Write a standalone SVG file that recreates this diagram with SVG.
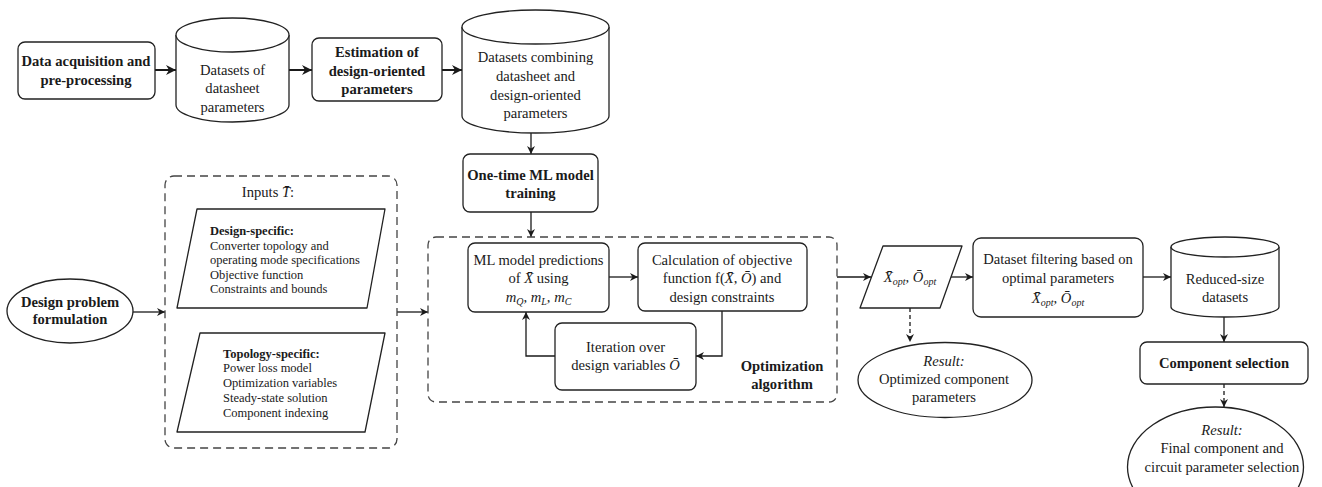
<svg xmlns="http://www.w3.org/2000/svg" width="1322" height="487" viewBox="0 0 1322 487">
<defs>
<style>
.box{fill:#fff;stroke:#222;stroke-width:1.3}
.dbox{fill:none;stroke:#444;stroke-width:1.3;stroke-dasharray:8,5}
.t{font-family:"Liberation Serif","Times New Roman",serif;font-size:14.6px;fill:#1a1a1a;text-anchor:middle}
.s{font-family:"Liberation Serif","Times New Roman",serif;font-size:12.5px;fill:#1a1a1a}
.b{font-weight:bold}
.i{font-style:italic}
.c{fill:none;stroke:#1a1a1a;stroke-width:1.3}
.ct{fill:none;stroke:#1a1a1a;stroke-width:2}
.cd{fill:none;stroke:#1a1a1a;stroke-width:1.3;stroke-dasharray:4,3}
</style>
<marker id="ah" viewBox="0 0 10 10" refX="10" refY="5" markerWidth="8" markerHeight="8" markerUnits="userSpaceOnUse" orient="auto">
<path d="M0,0 L10,5 L0,10 L3,5 z" fill="#1a1a1a"/>
</marker>
<marker id="ahb" viewBox="0 0 10 10" refX="10" refY="5" markerWidth="10" markerHeight="10" markerUnits="userSpaceOnUse" orient="auto">
<path d="M0,0 L10,5 L0,10 L3,5 z" fill="#1a1a1a"/>
</marker>
</defs>
<rect width="1322" height="487" fill="#fff"/>

<g id="connectors">
<line class="ct" x1="155" y1="70" x2="176" y2="70" marker-end="url(#ahb)"/>
<line class="ct" x1="289" y1="70" x2="312" y2="70" marker-end="url(#ahb)"/>
<line class="ct" x1="442" y1="70" x2="462" y2="70" marker-end="url(#ahb)"/>
<line class="c" x1="531" y1="133" x2="531" y2="154" marker-end="url(#ah)"/>
<line class="c" x1="531" y1="212" x2="531" y2="237" marker-end="url(#ah)"/>
<line class="c" x1="133" y1="312" x2="165" y2="312" marker-end="url(#ah)"/>
<line class="c" x1="397" y1="312" x2="428" y2="312" marker-end="url(#ah)"/>
<line class="c" x1="609" y1="277" x2="638" y2="277" marker-end="url(#ah)"/>
<path class="c" d="M722,311 V356 H696" marker-end="url(#ah)"/>
<path class="c" d="M555,356 H526 V312" marker-end="url(#ah)"/>
<line class="c" x1="837" y1="277" x2="871" y2="277" marker-end="url(#ah)"/>
<line class="c" x1="951" y1="277" x2="973" y2="277" marker-end="url(#ah)"/>
<line class="c" x1="1143" y1="277" x2="1171" y2="277" marker-end="url(#ah)"/>
<line class="c" x1="1224" y1="317" x2="1224" y2="342" marker-end="url(#ah)"/>
<line class="cd" x1="1224" y1="384" x2="1224" y2="407" marker-end="url(#ah)"/>
<line class="cd" x1="910" y1="308" x2="910" y2="342" marker-end="url(#ah)"/>
</g>

<g id="data-acq">
<rect class="box" x="18" y="42" width="137" height="57" rx="7"/>
<text class="t b" x="86" y="66">Data acquisition and</text>
<text class="t b" x="86" y="85">pre-processing</text>
</g>

<g id="cyl-datasheet">
<path class="box" d="M176,35 V105 A56.5,17 0 0 0 289,105 V35"/>
<ellipse class="box" cx="232.5" cy="35" rx="56.5" ry="17"/>
<text class="t" x="232.5" y="75">Datasets of</text>
<text class="t" x="232.5" y="93">datasheet</text>
<text class="t" x="232.5" y="112">parameters</text>
</g>

<g id="estimation">
<rect class="box" x="312" y="38" width="130" height="63" rx="7"/>
<text class="t b" x="377" y="57">Estimation of</text>
<text class="t b" x="377" y="76">design-oriented</text>
<text class="t b" x="377" y="94">parameters</text>
</g>

<g id="cyl-combined">
<path class="box" d="M462,27 V116 A73.5,17 0 0 0 609,116 V27"/>
<ellipse class="box" cx="535.5" cy="27" rx="73.5" ry="17"/>
<text class="t" x="535.5" y="62">Datasets combining</text>
<text class="t" x="535.5" y="81">datasheet and</text>
<text class="t" x="535.5" y="100">design-oriented</text>
<text class="t" x="535.5" y="118">parameters</text>
</g>

<g id="ml-training">
<rect class="box" x="463" y="154" width="135" height="58" rx="7"/>
<text class="t b" x="530.5" y="180">One-time ML model</text>
<text class="t b" x="530.5" y="198">training</text>
</g>

<g id="design-problem">
<ellipse class="box" cx="70" cy="311" rx="63" ry="32"/>
<text class="t b" x="70" y="307">Design problem</text>
<text class="t b" x="70" y="324">formulation</text>
</g>

<g id="inputs">
<rect class="dbox" x="165" y="176" width="232" height="272" rx="9"/>
<text class="t" x="268" y="197">Inputs <tspan class="i">T̄</tspan>:</text>
<g id="design-specific">
<polygon class="box" stroke-linejoin="round" points="197,209 385,209 367,308 177,308"/>
<text class="s b" x="210" y="235">Design-specific:</text>
<text class="s" x="210" y="249.5">Converter topology and</text>
<text class="s" x="210" y="264">operating mode specifications</text>
<text class="s" x="210" y="278.5">Objective function</text>
<text class="s" x="210" y="293">Constraints and bounds</text>
</g>
<g id="topology-specific">
<polygon class="box" stroke-linejoin="round" points="200,333 385,333 365,432 177,432"/>
<text class="s b" x="223" y="357.5">Topology-specific:</text>
<text class="s" x="223" y="372">Power loss model</text>
<text class="s" x="223" y="387">Optimization variables</text>
<text class="s" x="223" y="402">Steady-state solution</text>
<text class="s" x="223" y="417">Component indexing</text>
</g>
</g>

<g id="optimization">
<rect class="dbox" x="428" y="237" width="409" height="165" rx="8"/>
<text class="t b" x="782" y="371">Optimization</text>
<text class="t b" x="782" y="389">algorithm</text>
<g id="ml-predictions">
<rect class="box" x="468" y="243" width="141" height="69" rx="7"/>
<text class="t" x="538.5" y="265">ML model predictions</text>
<text class="t" x="538.5" y="283">of <tspan class="i">X̄</tspan> using</text>
<text class="t i" x="538.5" y="302">m<tspan font-size="10" dy="3">Q</tspan><tspan dy="-3">, m</tspan><tspan font-size="10" dy="3">L</tspan><tspan dy="-3">, m</tspan><tspan font-size="10" dy="3">C</tspan></text>
</g>
<g id="calculation">
<rect class="box" x="638" y="243" width="169" height="68" rx="7"/>
<text class="t" x="722" y="265">Calculation of objective</text>
<text class="t" x="722" y="283">function f(<tspan class="i">X̄</tspan>, <tspan class="i">Ō</tspan>) and</text>
<text class="t" x="722" y="302">design constraints</text>
</g>
<g id="iteration">
<rect class="box" x="555" y="323" width="141" height="67" rx="7"/>
<text class="t" x="625.5" y="352">Iteration over</text>
<text class="t" x="625.5" y="370">design variables <tspan class="i">Ō</tspan></text>
</g>
</g>

<g id="x-opt">
<polygon class="box" stroke-linejoin="round" points="883,246 962,246 940,308 860,308"/>
<text class="t i" x="910" y="282">X̄<tspan font-size="10" dy="3">opt</tspan><tspan dy="-3">, Ō</tspan><tspan font-size="10" dy="3">opt</tspan></text>
</g>

<g id="result-optimized">
<ellipse class="box" cx="945" cy="380" rx="87" ry="37.5"/>
<text class="t i" x="944" y="366">Result:</text>
<text class="t" x="944" y="384">Optimized component</text>
<text class="t" x="944" y="402">parameters</text>
</g>

<g id="filtering">
<rect class="box" x="973" y="238" width="170" height="79" rx="8"/>
<text class="t" x="1058" y="264">Dataset filtering based on</text>
<text class="t" x="1058" y="283">optimal parameters</text>
<text class="t i" x="1058" y="303">X̄<tspan font-size="10" dy="3">opt</tspan><tspan dy="-3">, Ō</tspan><tspan font-size="10" dy="3">opt</tspan></text>
</g>

<g id="cyl-reduced">
<path class="box" d="M1171,247 V307 A54,10 0 0 0 1279,307 V247"/>
<ellipse class="box" cx="1225" cy="247" rx="54" ry="10"/>
<text class="t" x="1225" y="284">Reduced-size</text>
<text class="t" x="1225" y="302">datasets</text>
</g>

<g id="component-selection">
<rect class="box" x="1140" y="342" width="168" height="42" rx="7"/>
<text class="t b" x="1224" y="368">Component selection</text>
</g>

<g id="result-final">
<ellipse class="box" cx="1215.5" cy="467" rx="88" ry="60"/>
<text class="t i" x="1222" y="435">Result:</text>
<text class="t" x="1222" y="453">Final component and</text>
<text class="t" x="1222" y="472">circuit parameter selection</text>
</g>
</svg>
